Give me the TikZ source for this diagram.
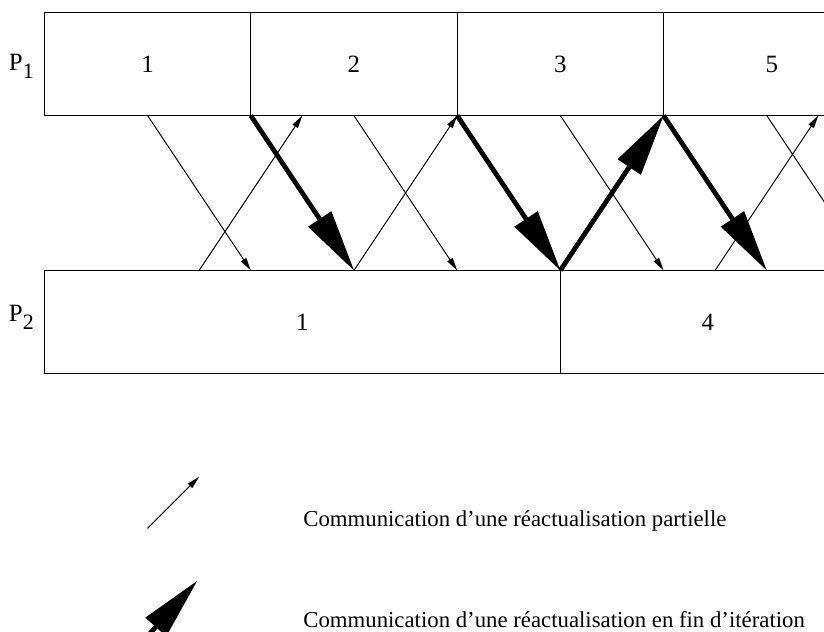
\documentclass[tikz,border=0pt]{standalone}
\usepackage{fontspec}
\setmainfont{Liberation Serif}
\usetikzlibrary{arrows.meta,positioning}
\newcommand{\Pname}[1]{P\raisebox{-0.32em}{\fontsize{15.6}{16}\selectfont #1}}

\begin{document}
\begin{tikzpicture}[x=2.58cm, y=2.58cm,
    cell/.style={draw, line width=0.7pt, minimum width=#1, minimum height=2.58cm,
      inner sep=0pt, outer sep=0pt, font=\fontsize{17.7}{20}\selectfont},
    proc/.style={anchor=base east, inner sep=0pt, font=\fontsize{17.7}{20}\selectfont},
    partial/.style={line width=0.7pt, -{Triangle[length=9.2pt,width=4.6pt,line width=0pt]}},
    final/.style={line width=3.4pt, -{Triangle[length=44pt,width=20pt,line width=0pt]}},
    keytext/.style={anchor=base west, inner sep=0pt, font=\fontsize{16.2}{19}\selectfont}]

    % Frame
    \useasboundingbox (-0.43,-6) rectangle (7.555,0.12);
    \clip (-0.43,-6) rectangle (7.555,0.12);

    % Processor P1
    \node[cell=5.16cm, anchor=north west] (p1a) at (0,0) {1};
    \node[cell=5.16cm, right=0pt of p1a] (p1b) {2};
    \node[cell=5.16cm, right=0pt of p1b] (p1c) {3};
    \node[cell=5.418cm, right=0pt of p1c] (p1d) {5};
    \node[proc] (lp1) at (-0.1,-0.566) {\Pname{1}};

    % Processor P2
    \node[cell=12.9cm, anchor=north west] (p2a) at (0,-2.5) {1};
    \node[cell=7.38cm, right=0pt of p2a] (p2b) {4};
    \node[proc] (lp2) at (-0.1,-3.0) {\Pname{2}};

    % Points on the facing edges
    \foreach \i in {0,...,16} {
      \coordinate (a\i) at (\i/2,-1);   % bottom of P1
      \coordinate (b\i) at (\i/2,-2.5); % top of P2
    }

    % Partial updates
    \foreach \i/\j in {2/4,6/8,10/12,14/16}
      \draw[partial] (a\i) -- (b\j);
    \foreach \i/\j in {3/5,6/8,13/15}
      \draw[partial] (b\i) -- (a\j);

    % End of iteration updates
    \draw[final] (a4) -- (b6);
    \draw[final] (a8) -- (b10);
    \draw[final] (b10) -- (a12);
    \draw[final] (a12) -- (b14);

    % Legend
    \coordinate (k1s) at (1,-5);
    \coordinate (k1e) at (1.5,-4.5);
    \coordinate (k2s) at (0.95,-6.1);
    \coordinate (k2e) at (1.48,-5.51);
    \draw[partial] (k1s) -- (k1e);
    \draw[final] (k2s) -- (k2e);
    \node[keytext] (t1) at (2.507,-4.978) {Communication d’une réactualisation partielle};
    \node[keytext] (t2) at (2.507,-5.956) {Communication d’une réactualisation en fin d’itération};
\end{tikzpicture}
\end{document}
